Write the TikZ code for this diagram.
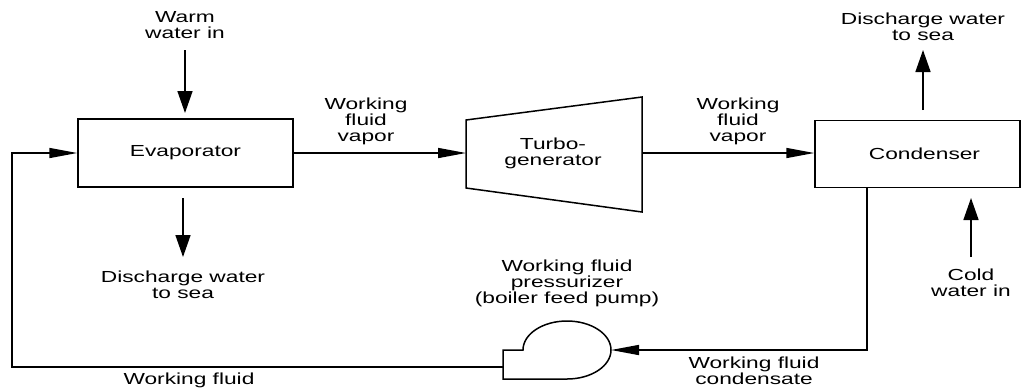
\documentclass[tikz,border=0pt]{standalone}
\usepackage{fontspec}
\setmainfont[FakeStretch=1.42]{Liberation Sans}
\usetikzlibrary{arrows.meta}
\begin{document}
\begin{tikzpicture}[x=1pt,y=-1pt,line width=1.5pt,
  lbl/.style={font=\fontsize{16}{16}\selectfont,align=center,inner sep=0pt},
  box/.style={draw,rectangle,inner sep=0pt,font=\fontsize{16}{16.5}\selectfont,align=center},
  harrow/.style={-{Triangle[length=28pt,width=10pt]}},
  varrow/.style={-{Triangle[length=22pt,width=15pt]}}]
\useasboundingbox (0,0) rectangle (1022,389);

% boxes
\node[box,minimum width=215pt,minimum height=68pt] (evap) at (185.5,153) {Evaporator};
\node[box,minimum width=205pt,minimum height=67pt,text width=205pt,align=center] (cond) at (917.5,154) {\hspace*{14pt}Condenser};

% turbine
\coordinate (t1) at (466,120);
\coordinate (t2) at (642,97);
\coordinate (t3) at (642,212);
\coordinate (t4) at (466,188);
\draw (t1) -- (t2) -- (t3) -- (t4) -- cycle;
\node[lbl] (turb) at (553,153) {Turbo-\\generator};
\coordinate (tin) at (466,153);
\coordinate (tout) at (642,153);

% pump
\coordinate (pin) at (611,350);
\coordinate (pout) at (503,367);
\draw (503,379) -- (503,350) -- (523,350)
  arc[start angle=180,end angle=450,x radius=44,y radius=29] -- cycle;

% labels
\node[lbl] (warm) at (185,25.5) {Warm\\water in};
\node[lbl] (dis1) at (183,285) {Discharge water\\to sea};
\node[lbl] (vap1) at (366,121) {Working\\fluid\\vapor};
\node[lbl] (vap2) at (738,121) {Working\\fluid\\vapor};
\node[lbl] (dis2) at (923,27) {Discharge water\\to sea};
\node[lbl] (cold) at (971,283) {Cold\\water in};
\node[lbl] (pmp) at (567,283) {Working fluid\\pressurizer\\(boiler feed pump)};
\node[lbl] (cnd) at (754,371) {Working fluid\\condensate};
\node[lbl] (wf) at (189,380) {Working fluid};

% water arrows
\coordinate (w1) at (185,50);
\coordinate (w2) at (185,113);
\draw[varrow] (w1) -- (w2);
\coordinate (d1) at (183,198);
\coordinate (d2) at (183,257);
\draw[varrow] (d1) -- (d2);
\coordinate (e1) at (923,110);
\coordinate (e2) at (923,50);
\draw[varrow] (e1) -- (e2);
\coordinate (c1) at (971,257);
\coordinate (c2) at (971,198);
\draw[varrow] (c1) -- (c2);

% working fluid loop
\draw[harrow] (evap.east |- tin) -- (tin);
\draw[harrow] (tout) -- (cond.west |- tout);
\coordinate (k1) at (867,350);
\draw[harrow] (cond.south -| k1) -- (k1) -- (pin);
\coordinate (l1) at (12,367);
\draw[harrow] (pout) -- (l1) -- (l1 |- evap.west) -- (evap.west);
\end{tikzpicture}
\end{document}
